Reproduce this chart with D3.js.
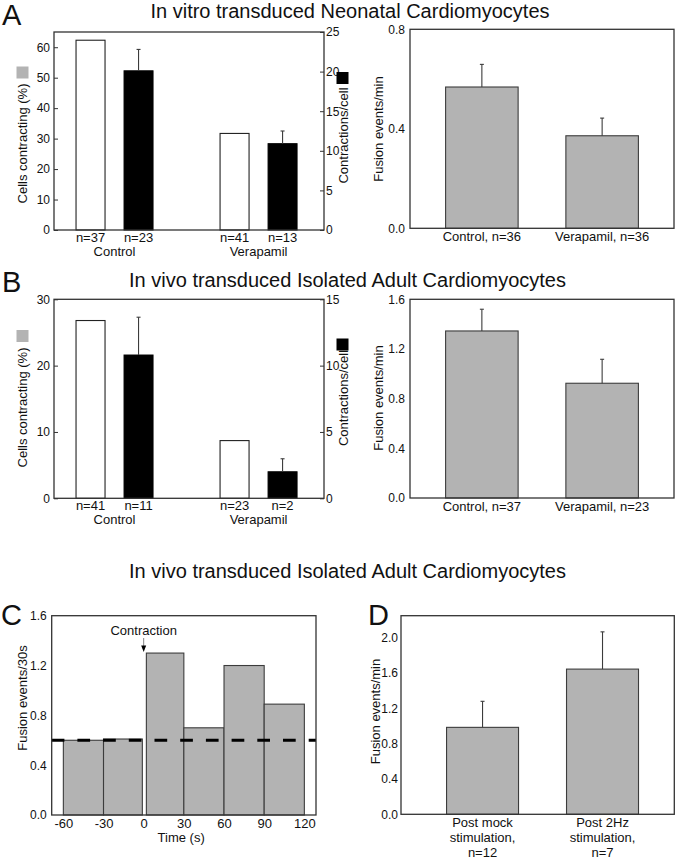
<!DOCTYPE html>
<html><head><meta charset="utf-8">
<script src="https://cdn.jsdelivr.net/npm/d3@7"></script>
<style>
body{margin:0;background:#fff}
svg{display:block}
text{font-family:"Liberation Sans",Arial,Helvetica,sans-serif;fill:#111}
</style>
</head><body>
<svg id="chart" width="677" height="860"></svg>
<script>
// ---------------- DATA ----------------
const titleTop = "In vitro transduced Neonatal Cardiomyocytes";
const titleMid = "In vivo transduced Isolated Adult Cardiomyocytes";
const titleBottom = "In vivo transduced Isolated Adult Cardiomyocytes";

// Panel A (left) – dual axis
const aGroups = ["Control", "Verapamil"];
const aPct = [62.3, 31.7];
const aPctN = ["n=37", "n=41"];
const aContr = [20.1, 10.9];
const aContrErr = [2.7, 1.6];
const aContrN = ["n=23", "n=13"];
const aPctTicks = [0, 10, 20, 30, 40, 50, 60];
const aContrTicks = [0, 5, 10, 15, 20, 25];
// Panel A (right)
const aFusionCats = ["Control, n=36", "Verapamil, n=36"];
const aFusion = [0.568, 0.372];
const aFusionErr = [0.091, 0.071];
const aFusionTicks = [0.0, 0.4, 0.8];

// Panel B (left) – dual axis
const bGroups = ["Control", "Verapamil"];
const bPct = [26.8, 8.7];
const bPctN = ["n=41", "n=23"];
const bContr = [10.8, 2.0];
const bContrErr = [2.85, 0.98];
const bContrN = ["n=11", "n=2"];
const bPctTicks = [0, 10, 20, 30];
const bContrTicks = [0, 5, 10, 15];
// Panel B (right)
const bFusionCats = ["Control, n=37", "Verapamil, n=23"];
const bFusion = [1.345, 0.924];
const bFusionErr = [0.175, 0.193];
const bFusionTicks = [0.0, 0.4, 0.8, 1.2, 1.6];

// Panel C – histogram
const cBinStart = [-60, -30, 2, 30, 60, 90];
const cBinEnd = [-30, -1, 30, 60, 90, 120];
const cValues = [0.60, 0.61, 1.30, 0.70, 1.20, 0.89];
const cBaseline = 0.6;
const cXTicks = [-60, -30, 0, 30, 60, 90, 120];
const cYTicks = [0.0, 0.4, 0.8, 1.2, 1.6];

// Panel D
const dCats = [["Post mock", "stimulation,", "n=12"], ["Post 2Hz", "stimulation,", "n=7"]];
const dValues = [0.985, 1.645];
const dErr = [0.295, 0.422];
const dTicks = [0.0, 0.4, 0.8, 1.2, 1.6, 2.0];

// ---------------- DRAWING ----------------
const svg = d3.select("#chart");
const GRAY = "#b3b3b3", EDGE = "#3c3c3c", FRAME = "#333";
const fmt1 = d3.format(".1f");

function frame(g, x0, x1, y0, y1) {
  g.append("rect").attr("x", x0).attr("y", y0).attr("width", x1 - x0).attr("height", y1 - y0)
    .attr("fill", "none").attr("stroke", FRAME).attr("stroke-width", 1.3);
}
function errBar(g, x, yBase, yTop) {
  g.append("line").attr("x1", x).attr("x2", x).attr("y1", yBase).attr("y2", yTop)
    .attr("stroke", EDGE).attr("stroke-width", 1.1);
  g.append("line").attr("x1", x - 2).attr("x2", x + 2).attr("y1", yTop).attr("y2", yTop)
    .attr("stroke", EDGE).attr("stroke-width", 1.1);
}
function styleAxis(sel, size) {
  sel.select(".domain").remove();
  sel.selectAll("text").attr("font-size", size).attr("fill", "#111")
    .attr("font-family", '"Liberation Sans",Arial,sans-serif');
  sel.selectAll(".tick line").attr("stroke", FRAME);
}
function rotLabel(g, text, x, y) {
  g.append("text").attr("transform", `translate(${x},${y}) rotate(-90)`)
    .attr("text-anchor", "middle").attr("dominant-baseline", "central")
    .attr("font-size", 13).text(text);
}

function dualPanel(cfg) {
  const g = svg.append("g");
  const {x0, x1, y0, y1} = cfg;
  const keys = [];
  cfg.groups.forEach((gr, i) => {
    if (i > 0) keys.push("_gap" + i);
    keys.push(gr + "|pct", gr + "|cnt");
  });
  const x = d3.scaleBand().domain(keys).range([x0, x1])
    .paddingInner(0.396).paddingOuter(0.51).align(0.45);
  const yL = d3.scaleLinear().domain(cfg.leftDomain).range([y1, y0]);
  const yR = d3.scaleLinear().domain(cfg.rightDomain).range([y1, y0]);

  cfg.groups.forEach((gr, i) => {
    g.append("rect").attr("x", x(gr + "|pct")).attr("width", x.bandwidth())
      .attr("y", yL(cfg.pct[i])).attr("height", y1 - yL(cfg.pct[i]))
      .attr("fill", "#fff").attr("stroke", "#222").attr("stroke-width", 1.1);
    g.append("rect").attr("x", x(gr + "|cnt")).attr("width", x.bandwidth())
      .attr("y", yR(cfg.contr[i])).attr("height", y1 - yR(cfg.contr[i]))
      .attr("fill", "#000").attr("stroke", "#000").attr("stroke-width", 1);
    errBar(g, x(gr + "|cnt") + x.bandwidth() / 2, yR(cfg.contr[i]), yR(cfg.contr[i] + cfg.contrErr[i]));
    const cx1 = x(gr + "|pct") + x.bandwidth() / 2, cx2 = x(gr + "|cnt") + x.bandwidth() / 2;
    g.append("text").attr("x", cx1).attr("y", y1 + 12).attr("text-anchor", "middle").attr("font-size", 13).text(cfg.pctN[i]);
    g.append("text").attr("x", cx2).attr("y", y1 + 12).attr("text-anchor", "middle").attr("font-size", 13).text(cfg.contrN[i]);
    g.append("text").attr("x", (cx1 + cx2) / 2).attr("y", y1 + 25.5).attr("text-anchor", "middle").attr("font-size", 13).text(gr);
  });
  frame(g, x0, x1, y0, y1);
  const la = g.append("g").attr("transform", `translate(${x0},0)`)
    .call(d3.axisLeft(yL).tickValues(cfg.leftTicks).tickSizeInner(-4).tickSizeOuter(0).tickPadding(4));
  styleAxis(la, 12);
  const ra = g.append("g").attr("transform", `translate(${x1},0)`)
    .call(d3.axisRight(yR).tickValues(cfg.rightTicks).tickSizeInner(-4).tickSizeOuter(0).tickPadding(2));
  styleAxis(ra, 12);
  g.append("rect").attr("x", 16.5).attr("y", cfg.lSq).attr("width", 12).attr("height", 12).attr("fill", GRAY);
  rotLabel(g, "Cells contracting (%)", 22.5, cfg.lText);
  g.append("rect").attr("x", 336.5).attr("y", cfg.rSq).attr("width", 12).attr("height", 12).attr("fill", "#000");
  rotLabel(g, "Contractions/cell", 343, cfg.rText);
}

function simplePanel(cfg) {
  const g = svg.append("g");
  const {x0, x1, y0, y1} = cfg;
  const x = d3.scaleBand().domain(d3.range(cfg.values.length)).range([x0, x1])
    .paddingInner(cfg.pi).paddingOuter(cfg.po).align(cfg.align);
  const y = d3.scaleLinear().domain(cfg.domain).range([y1, y0]);
  cfg.values.forEach((v, i) => {
    g.append("rect").attr("x", x(i)).attr("width", x.bandwidth())
      .attr("y", y(v)).attr("height", y1 - y(v))
      .attr("fill", GRAY).attr("stroke", EDGE).attr("stroke-width", 1.1);
    errBar(g, x(i) + x.bandwidth() / 2, y(v), y(v + cfg.err[i]));
    const lines = Array.isArray(cfg.cats[i]) ? cfg.cats[i] : [cfg.cats[i]];
    lines.forEach((t, k) => {
      g.append("text").attr("x", x(i) + x.bandwidth() / 2).attr("y", y1 + 13 + k * 15)
        .attr("text-anchor", "middle").attr("font-size", 13).text(t);
    });
  });
  frame(g, x0, x1, y0, y1);
  const ax = g.append("g").attr("transform", `translate(${x0},0)`)
    .call(d3.axisLeft(y).tickValues(cfg.ticks).tickFormat(fmt1).tickSize(0).tickPadding(cfg.tp));
  styleAxis(ax, 12);
  rotLabel(g, "Fusion events/min", cfg.labelX, cfg.labelY);
}

function title(t, x, y) {
  svg.append("text").attr("x", x).attr("y", y).attr("text-anchor", "middle").attr("font-size", 20).text(t);
}
function letter(t, x, y) {
  svg.append("text").attr("x", x).attr("y", y).attr("font-size", 29).text(t);
}
title(titleTop, 350, 18);
title(titleMid, 347.5, 286.5);
title(titleBottom, 347.5, 578);
letter("A", 2, 25);
letter("B", 2, 292);
letter("C", 1, 625);
letter("D", 368, 625);

// Panel A
dualPanel({x0: 54, x1: 324, y0: 32, y1: 230, groups: aGroups, pct: aPct, pctN: aPctN,
  contr: aContr, contrErr: aContrErr, contrN: aContrN,
  leftDomain: [0, 65], rightDomain: [0, 25], leftTicks: aPctTicks, rightTicks: aContrTicks,
  lSq: 66.5, lText: 143.5, rSq: 72, rText: 135.5});
simplePanel({x0: 410, x1: 674, y0: 29.3, y1: 228.3, values: aFusion, err: aFusionErr, cats: aFusionCats,
  domain: [0, 0.8], ticks: aFusionTicks, pi: 0.397, po: 0.296, align: 0.5, tp: 5, labelX: 378, labelY: 129});

// Panel B
dualPanel({x0: 54, x1: 324, y0: 299.3, y1: 498.3, groups: bGroups, pct: bPct, pctN: bPctN,
  contr: bContr, contrErr: bContrErr, contrN: bContrN,
  leftDomain: [0, 30], rightDomain: [0, 15], leftTicks: bPctTicks, rightTicks: bContrTicks,
  lSq: 330, lText: 407.5, rSq: 338.5, rText: 398});
simplePanel({x0: 410, x1: 674, y0: 299.3, y1: 498, values: bFusion, err: bFusionErr, cats: bFusionCats,
  domain: [0, 1.6], ticks: bFusionTicks, pi: 0.397, po: 0.296, align: 0.5, tp: 5, labelX: 378, labelY: 398});

// Panel C
(function () {
  const g = svg.append("g");
  const x0 = 51.7, x1 = 316, y0 = 615.7, y1 = 815;
  const x = d3.scaleLinear().domain([-68.7, 128.7]).range([x0, x1]);
  const y = d3.scaleLinear().domain([0, 1.6]).range([y1, y0]);
  cValues.forEach((v, i) => {
    g.append("rect").attr("x", x(cBinStart[i])).attr("width", x(cBinEnd[i]) - x(cBinStart[i]))
      .attr("y", y(v)).attr("height", y1 - y(v))
      .attr("fill", GRAY).attr("stroke", EDGE).attr("stroke-width", 1.1);
  });
  g.append("line").attr("x1", x0).attr("x2", x1).attr("y1", y(cBaseline)).attr("y2", y(cBaseline))
    .attr("stroke", "#000").attr("stroke-width", 3).attr("stroke-dasharray", "12.7,13");
  frame(g, x0, x1, y0, y1);
  const ya = g.append("g").attr("transform", `translate(${x0},0)`)
    .call(d3.axisLeft(y).tickValues(cYTicks).tickFormat(fmt1).tickSize(0).tickPadding(5));
  styleAxis(ya, 12);
  const xa = g.append("g").attr("transform", `translate(0,${y1})`)
    .call(d3.axisBottom(x).tickValues(cXTicks).tickFormat(d => String(d)).tickSize(0).tickPadding(4));
  styleAxis(xa, 13);
  g.append("text").attr("x", x(28)).attr("y", 842).attr("text-anchor", "middle").attr("font-size", 13).text("Time (s)");
  rotLabel(g, "Fusion events/30s", 22, 698);
  const ax = x(0);
  g.append("text").attr("x", ax).attr("y", 635).attr("text-anchor", "middle").attr("font-size", 13).text("Contraction");
  g.append("line").attr("x1", ax).attr("x2", ax).attr("y1", 638).attr("y2", 646).attr("stroke", "#666").attr("stroke-width", 0.8);
  g.append("path").attr("d", `M${ax - 2.5},645.5L${ax + 2.5},645.5L${ax},652Z`).attr("fill", "#000");
})();

// Panel D
simplePanel({x0: 401, x1: 674.3, y0: 615.7, y1: 814.3, values: dValues, err: dErr, cats: dCats,
  domain: [0, 2.25], ticks: dTicks, pi: 0.4, po: 0.339, align: 0.56, tp: 3, labelX: 375, labelY: 711.5});
</script>
</body></html>
